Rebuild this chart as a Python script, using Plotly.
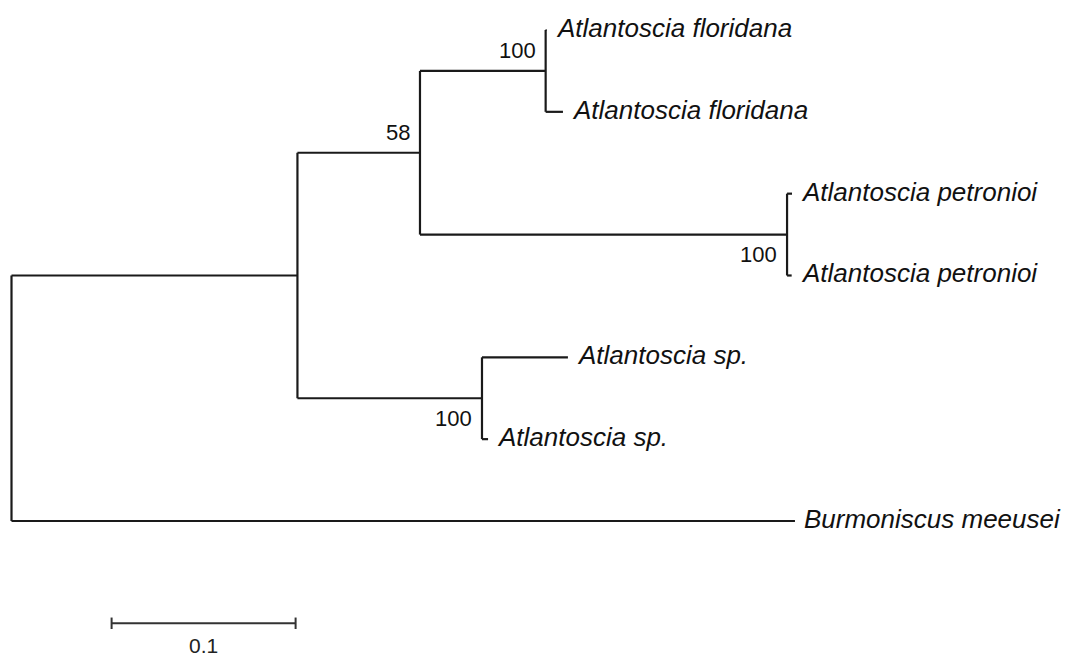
import plotly.graph_objects as go

# ---- Tree data -------------------------------------------------------------
# Internal nodes: parent, branch length (substitutions/site), bootstrap support
node_ids = ["root", "n1", "n2", "n3", "n4", "n5"]
node_parent = [None, "root", "n1", "n2", "n2", "n1"]
node_length = [0.0, 0.1554, 0.0666, 0.0683, 0.1995, 0.1003]
node_support = [None, None, 58, 100, 100, 100]

# Terminal taxa, in drawing order from top to bottom
tip_labels = [
    "Atlantoscia floridana",
    "Atlantoscia floridana",
    "Atlantoscia petronioi",
    "Atlantoscia petronioi",
    "Atlantoscia sp.",
    "Atlantoscia sp.",
    "Burmoniscus meeusei",
]
tip_parent = ["n3", "n3", "n4", "n4", "n5", "n5", "root"]
tip_length = [0.0005, 0.0094, 0.0027, 0.0025, 0.0467, 0.0033, 0.4258]

scale_length = 0.1
scale_label = "0.1"

# ---- Layout of the tree ----------------------------------------------------
parent_of = dict(zip(node_ids, node_parent))
length_of = dict(zip(node_ids, node_length))

def depth(node):
    d = 0.0
    while node is not None:
        d += length_of[node]
        node = parent_of[node]
    return d

node_x = {n: depth(n) for n in node_ids}
tip_x = [node_x[p] + l for p, l in zip(tip_parent, tip_length)]
tip_y = list(range(len(tip_labels)))

children = {n: [] for n in node_ids}
for n, p in zip(node_ids, node_parent):
    if p is not None:
        children[p].append(("node", n))
for i, p in enumerate(tip_parent):
    children[p].append(("tip", i))

node_y = {}
def y_of(kind, key):
    if kind == "tip":
        return tip_y[key]
    if key not in node_y:
        ys = [y_of(k, c) for k, c in children[key]]
        node_y[key] = (min(ys) + max(ys)) / 2.0
    return node_y[key]

for n in node_ids:
    y_of("node", n)

# Rectangular cladogram segments
xs, ys = [], []
for n in node_ids:
    cy = [y_of(k, c) for k, c in children[n]]
    # vertical connector
    xs += [node_x[n], node_x[n], None]
    ys += [min(cy), max(cy), None]
    # horizontal branches to children
    for k, c in children[n]:
        cx = node_x[c] if k == "node" else tip_x[c]
        xs += [node_x[n], cx, None]
        ys += [y_of(k, c), y_of(k, c), None]

line_color = "#1a1a1a"
fig = go.Figure()
fig.add_trace(go.Scatter(x=xs, y=ys, mode="lines",
                         line=dict(color=line_color, width=2.2),
                         hoverinfo="skip", showlegend=False))

annotations = []
label_font = dict(family="Liberation Sans, Arial, sans-serif", size=26,
                  color="#111111", style="italic")
for x, y, name in zip(tip_x, tip_y, tip_labels):
    annotations.append(dict(x=x, y=y, xref="x", yref="y", text=name,
                            showarrow=False, xanchor="left", yanchor="middle",
                            xshift=7, yshift=2, font=label_font))

# Bootstrap values: above the branch for upper clades, below for lower ones
support_font = dict(family="Liberation Sans, Arial, sans-serif", size=22,
                    color="#111111")
support_side = {"n2": 1, "n3": 1, "n4": -1, "n5": -1}
for n, s in zip(node_ids, node_support):
    if s is None:
        continue
    annotations.append(dict(x=node_x[n], y=node_y[n], xref="x", yref="y",
                            text=str(s), showarrow=False, xanchor="right",
                            yanchor="middle", xshift=-8,
                            yshift=20 * support_side[n], font=support_font))

# Scale bar
sb_x0 = 0.0544
sb_y = 7.25
tick = 0.07
fig.add_trace(go.Scatter(
    x=[sb_x0, sb_x0 + scale_length, None, sb_x0, sb_x0, None,
       sb_x0 + scale_length, sb_x0 + scale_length],
    y=[sb_y, sb_y, None, sb_y - tick, sb_y + tick, None,
       sb_y - tick, sb_y + tick],
    mode="lines", line=dict(color="#333333", width=2),
    hoverinfo="skip", showlegend=False))
annotations.append(dict(x=sb_x0 + scale_length / 2, y=sb_y, xref="x", yref="y",
                        text=scale_label, showarrow=False, xanchor="center",
                        yanchor="top", yshift=-9,
                        font=dict(family="Liberation Sans, Arial, sans-serif",
                                  size=21, color="#222222")))

W, H = 1067, 657
px_per_unit = 1840.0
x0_px = 11.5
row_px = 81.83
y0_px = 30.0

fig.update_layout(
    width=W, height=H,
    margin=dict(l=0, r=0, t=0, b=0),
    paper_bgcolor="white", plot_bgcolor="white",
    annotations=annotations,
    xaxis=dict(range=[-x0_px / px_per_unit, (W - x0_px) / px_per_unit],
               visible=False, fixedrange=True),
    yaxis=dict(range=[(H - y0_px) / row_px, -y0_px / row_px],
               visible=False, fixedrange=True),
)

fig.write_html("out.html")
